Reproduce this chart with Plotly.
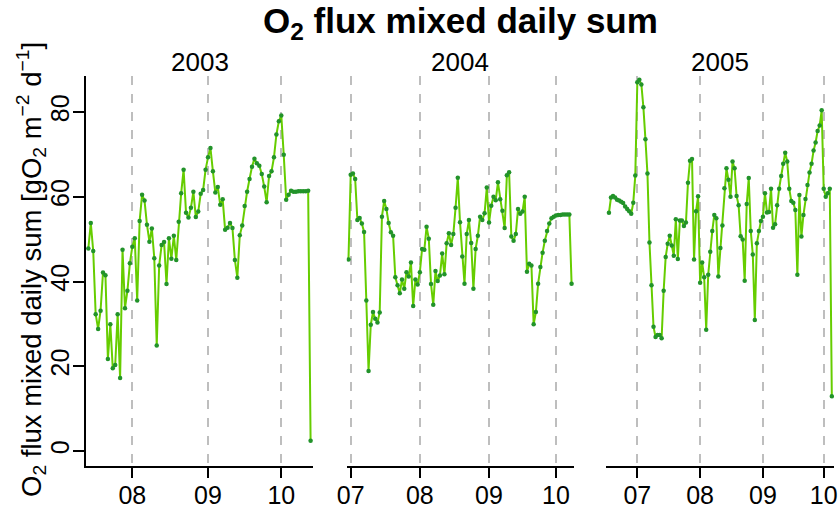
import pandas as pd
import plotly.graph_objects as go

# Daily sums of mixed-layer O2 flux [gO2 m-2 d-1], one series per season
start_2003 = "2003-07-14"
flux_2003 = [47.8, 53.8, 47.2, 32.3, 28.8, 33.1, 42.1, 41.5, 21.7, 29.9,
             19.5, 20.3, 32.3, 17.2, 47.5, 33.7, 37.8, 44.3, 48.2, 50.2,
             35.5, 54.3, 60.5, 59.1, 53.4, 49.4, 52.5, 45.5, 24.9, 43.8,
             48.6, 49.3, 39.4, 50.2, 45.4, 50.8, 45.1, 54.1, 60.8, 66.4,
             56.2, 55.1, 57.4, 61.2, 55.2, 56.5, 60.7, 61.6, 66.4, 69.3,
             71.5, 66.0, 61.0, 62.3, 58.1, 59.4, 52.2, 52.7, 53.8, 52.6,
             45.1, 40.9, 50.9, 53.2, 57.8, 61.2, 64.2, 67.1, 69.0, 67.9,
             67.3, 65.4, 62.4, 58.7, 64.9, 66.0, 69.3, 74.7, 77.8, 79.2,
             69.9, 59.3, 60.5, 61.4, 61.2, 61.2, 61.3, 61.3, 61.3, 61.3,
             61.4, 2.4]

start_2004 = "2004-06-30"
flux_2004 = [45.2,
             65.2, 65.5, 64.2, 54.5, 55.0, 53.7, 51.7, 35.5, 18.9, 29.8,
             32.8, 31.2, 30.3, 32.7, 55.3, 59.0, 57.1, 53.8, 51.6, 50.8,
             41.0, 39.1, 37.2, 40.5, 38.3, 42.2, 41.2, 44.5, 34.2, 40.5,
             39.3, 42.2,
             47.7, 47.5, 52.9, 50.1, 39.4, 34.5, 42.5, 40.1, 41.4, 46.6,
             41.7, 49.0, 51.4, 48.6, 51.2, 57.4, 64.5, 54.0, 45.9, 39.5,
             51.2, 54.5, 49.1, 38.3, 47.7, 50.8, 55.3, 54.5, 56.1, 62.2,
             53.9,
             57.9, 60.0, 59.2, 63.4, 59.4, 56.7, 52.6, 65.1, 65.8, 50.6,
             49.6, 51.2, 57.1, 56.0, 56.5, 60.0, 42.3, 44.2, 43.8, 29.9,
             32.8, 39.5, 43.4, 46.8, 49.6, 51.9, 53.7, 54.9, 55.3, 55.6,
             55.7, 55.7, 55.8, 55.8, 55.8, 55.8, 39.5]

start_2005 = "2005-06-17"
flux_2005 = [56.2, 59.8, 60.2, 59.8, 59.3, 59.1, 58.8, 58.5, 57.7, 57.1,
             56.6, 56.0, 58.6, 65.0,
             87.0, 87.6, 86.5, 81.1, 73.6, 65.5, 49.2, 39.1, 29.3, 26.9,
             27.4, 27.4, 26.6, 37.8, 45.8, 48.9, 50.8, 48.5, 46.1, 54.7,
             45.3, 54.4, 54.4, 53.1, 53.9, 63.3, 68.5, 68.9, 45.2, 56.6,
             60.1, 39.7,
             44.5, 41.0, 28.6, 41.6, 47.0, 51.9, 55.7, 54.9, 41.2, 47.9,
             53.2, 62.0, 66.7, 64.0, 60.0, 68.3, 66.7, 60.2, 58.0, 50.7,
             49.9, 40.2, 58.3, 64.4, 51.9, 46.4, 30.9, 49.0, 51.9, 54.3,
             55.3,
             60.8, 56.3, 56.4, 61.9, 52.7, 53.5, 58.0, 61.9, 64.9, 67.8,
             70.4, 68.3, 61.9, 59.0, 58.6, 56.9, 41.6, 60.4, 50.6, 55.7,
             59.5, 62.8, 65.7, 67.8, 70.9, 72.8, 75.5, 76.8, 80.4, 61.9,
             60.0, 60.8, 61.9, 12.9]

years = ["2003", "2004", "2005"]
starts = [start_2003, start_2004, start_2005]
series = [flux_2003, flux_2004, flux_2005]

# month ticks per panel
month_ticks = {
    "2003": ["2003-08-01", "2003-09-01", "2003-10-01"],
    "2004": ["2004-07-01", "2004-08-01", "2004-09-01", "2004-10-01"],
    "2005": ["2005-07-01", "2005-08-01", "2005-09-01", "2005-10-01"],
}
x_ranges = {
    "2003": ["2003-07-12 22:00", "2003-10-14 02:30"],
    "2004": ["2004-06-29 05:00", "2004-10-09 02:00"],
    "2005": ["2005-06-15 13:00", "2005-10-06 02:00"],
}
y_ticks = [0, 20, 40, 60, 80]

W, H = 840, 509
panel_px = [(85.7, 313.3), (346.7, 574.0), (606.0, 834.0)]
plot_top, plot_bottom = 76.0, 465.7

LINE_COL = "#66CD00"
DOT_COL = "#22932A"
FONT = "Liberation Sans, Arial, sans-serif"

fig = go.Figure()

for i, (yr, st, vals) in enumerate(zip(years, starts, series)):
    dates = pd.date_range(st, periods=len(vals), freq="D")
    xname = "x" if i == 0 else f"x{i + 1}"
    fig.add_trace(go.Scatter(
        x=dates, y=vals, xaxis=xname, yaxis="y",
        mode="lines+markers",
        line=dict(color=LINE_COL, width=2),
        marker=dict(color=DOT_COL, size=4.5),
        showlegend=False, hoverinfo="skip",
    ))

    ax = dict(
        type="date",
        domain=[panel_px[i][0] / W, panel_px[i][1] / W],
        range=x_ranges[yr],
        anchor="y",
        tickmode="array",
        tickvals=month_ticks[yr],
        ticktext=[d[5:7] for d in month_ticks[yr]],
        ticks="outside", ticklen=11, tickwidth=1.5, tickcolor="black",
        ticklabelstandoff=-4,
        showline=True, linecolor="black", linewidth=1.5,
        showgrid=True, gridcolor="#BEBEBE", gridwidth=1.5, griddash="dash",
        zeroline=False,
        tickfont=dict(family=FONT, size=25, color="black"),
        automargin=False,
    )
    key = "xaxis" if i == 0 else f"xaxis{i + 1}"
    fig.update_layout(**{key: ax})

    fig.add_annotation(
        text=yr, xref="paper", yref="paper",
        x=sum(panel_px[i]) / 2 / W, y=1 - 62 / H,
        showarrow=False, xanchor="center", yanchor="middle",
        font=dict(family=FONT, size=26, color="black"),
    )

fig.update_layout(
    yaxis=dict(
        domain=[1 - plot_bottom / H, 1 - plot_top / H],
        range=[-3.47, 88.5],
        anchor="x",
        tickmode="array", tickvals=y_ticks,
        ticks="outside", ticklen=11, tickwidth=1.5, tickcolor="black",
        tickangle=-90, ticklabelstandoff=-6,
        showline=True, linecolor="black", linewidth=1.5,
        showgrid=False, zeroline=False,
        tickfont=dict(family=FONT, size=25, color="black"),
        automargin=False,
    ),
    width=W, height=H,
    margin=dict(l=0, r=0, t=0, b=0),
    paper_bgcolor="white", plot_bgcolor="white",
)

fig.add_annotation(
    text="<b>O<sub>2</sub> flux mixed daily sum</b>",
    xref="paper", yref="paper", x=460 / W, y=1 - 23 / H,
    showarrow=False, xanchor="center", yanchor="middle",
    font=dict(family=FONT, size=35, color="black"),
)
fig.add_annotation(
    text="O<sub>2</sub> flux mixed daily sum [gO<sub>2</sub> m<sup>\u22122</sup> d<sup>\u22121</sup>]",
    xref="paper", yref="paper", x=31 / W, y=1 - 270 / H,
    showarrow=False, xanchor="center", yanchor="middle", textangle=-90,
    font=dict(family=FONT, size=27.5, color="black"),
)

fig.write_html("out.html")
